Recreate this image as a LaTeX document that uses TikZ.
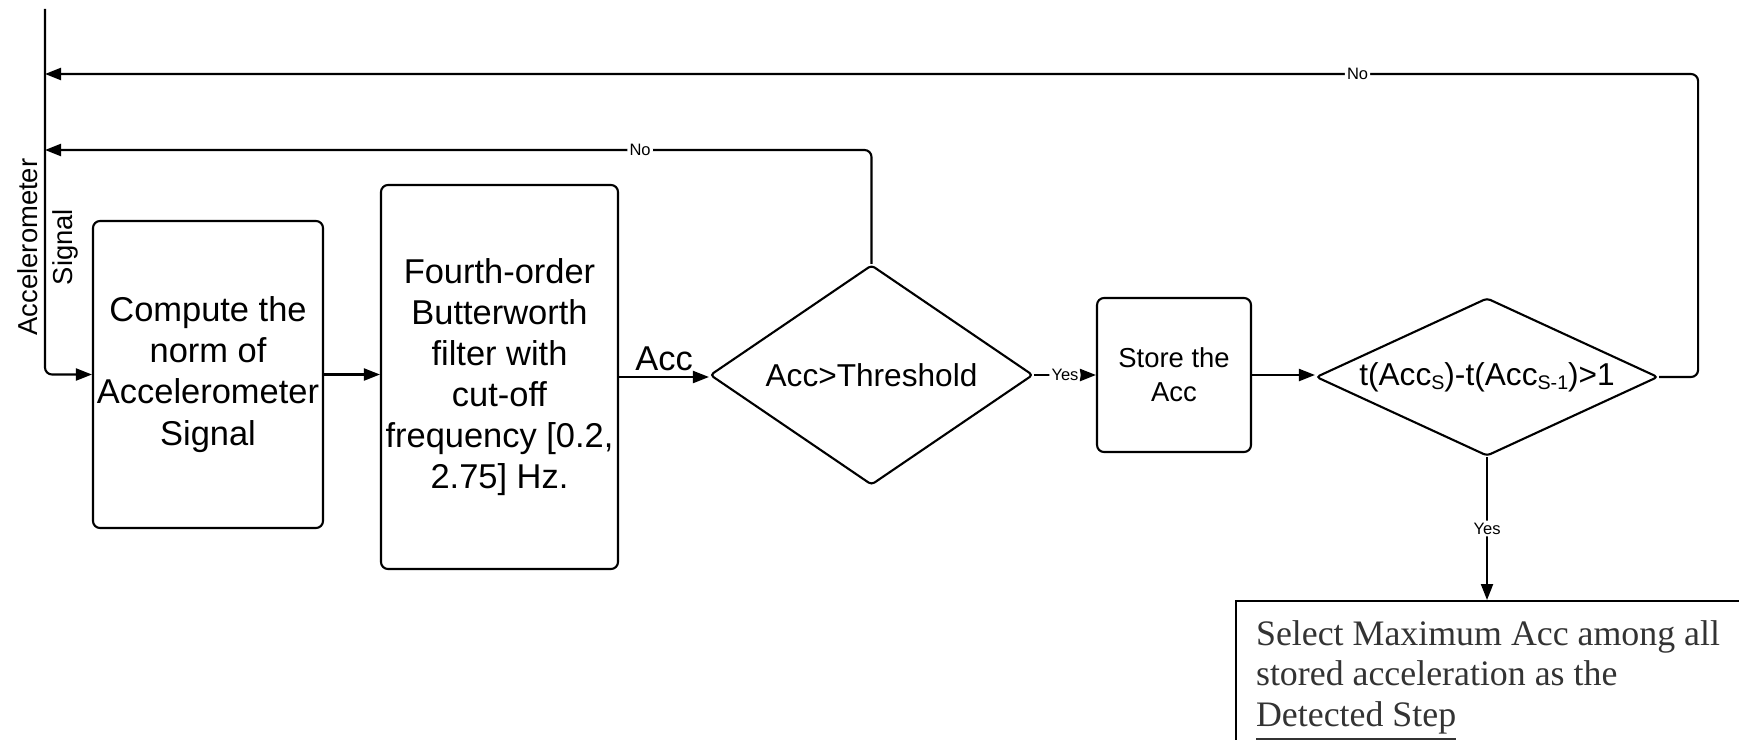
\documentclass[tikz,border=0pt]{standalone}
\usepackage{fontspec}
\setmainfont{Liberation Sans}
\newfontfamily\notefont{Liberation Serif}
\usetikzlibrary{arrows.meta,shapes.geometric}
\newcommand{\lowsub}[1]{\raisebox{-1.3pt}{\fontsize{5.6}{6}\selectfont #1}}
\tikzset{
  blk/.style     ={draw, rounded corners=2pt, line width=0.6pt, align=center,
                   inner sep=0pt, font=\fontsize{9.8}{11.7}\selectfont},
  smallblk/.style={blk, font=\fontsize{7.8}{9.7}\selectfont},
  dec/.style     ={draw, diamond, rounded corners=1pt, line width=0.6pt,
                   inner sep=0pt, font=\fontsize{9}{11}\selectfont},
  flow/.style    ={-{Triangle[length=1.6mm,width=1.2mm]}, line width=0.6pt,
                   rounded corners=2pt},
  lbl/.style     ={font=\fontsize{4.7}{5.5}\selectfont, fill=white, inner sep=0.6pt},
  sidelbl/.style ={rotate=90, align=center, font=\fontsize{7.8}{10}\selectfont},
  outbox/.style  ={draw, line width=0.6pt, anchor=north west, inner xsep=2mm,
                   inner ysep=1.95mm, text=black!80,
                   font=\notefont\fontsize{10.2}{11.5}\selectfont},
}

\begin{document}
\begin{tikzpicture}
  \useasboundingbox (0,0) rectangle (17.39,-7.39);
  \clip (0,0) rectangle (17.39,-7.39);
  % ---- input signal and the two return points
  \coordinate (sigtop) at (0.45,-0.09);
  \coordinate (fbtop)  at (0.45,-0.74);
  \coordinate (fbmid)  at (0.45,-1.50);
  \node[sidelbl] (sig) at (0.475,-2.47) {Accelerometer\\Signal};
  % ---- main row
  \node[blk, minimum width=2.30cm, minimum height=3.07cm] (cmp) at (2.08,-3.745)
    {Compute the\\norm of\\Accelerometer\\Signal};
  \node[blk, minimum width=2.37cm, minimum height=3.84cm] (flt) at (4.995,-3.77)
    {Fourth-order\\Butterworth\\filter with\\cut-off\\frequency [0.2,\\2.75] Hz.};
  \node[dec, aspect=1.468, minimum width=3.23cm, minimum height=2.20cm] (thr)
    at (8.715,-3.75) {Acc>Threshold};
  \node[smallblk, minimum width=1.54cm, minimum height=1.54cm] (sto) at (11.74,-3.75)
    {Store the\\Acc};
  \node[dec, aspect=2.165, minimum width=3.42cm, minimum height=1.58cm] (dtm)
    at (14.87,-3.77) {t(Acc\lowsub{S})-t(Acc\lowsub{S-1})>1};
  \node[outbox] (sel) at (12.35,-6.00)
    {\parbox[t][2.4cm][t]{5.5cm}{\raggedright Select Maximum Acc among all\\
      stored acceleration as the\\ \underline{Detected Step}}};
  % ---- connectors
  \draw[flow] (sigtop) |- (cmp.west);
  \draw[flow] (cmp.east) -- (cmp.east -| flt.west);
  \draw[flow] (flt.east) -- (flt.east -| thr.west)
    node[midway, above, inner sep=1.5pt, font=\fontsize{9.8}{11.7}\selectfont] (acc) {Acc};
  \draw[flow] (thr.east) -- (thr.east -| sto.west) node[lbl, midway] {Yes};
  \draw[flow] (sto.east) -- (sto.east -| dtm.west);
  \draw[flow] (thr.north) |- (fbmid) node[lbl, pos=0.64] {No};
  \draw[flow] (dtm.east) -- ++(0.39,0) |- (fbtop) node[lbl, pos=0.603] {No};
  \draw[flow] (dtm.south) -- (dtm.south |- sel.north) node[lbl, midway] {Yes};
\end{tikzpicture}
\end{document}
